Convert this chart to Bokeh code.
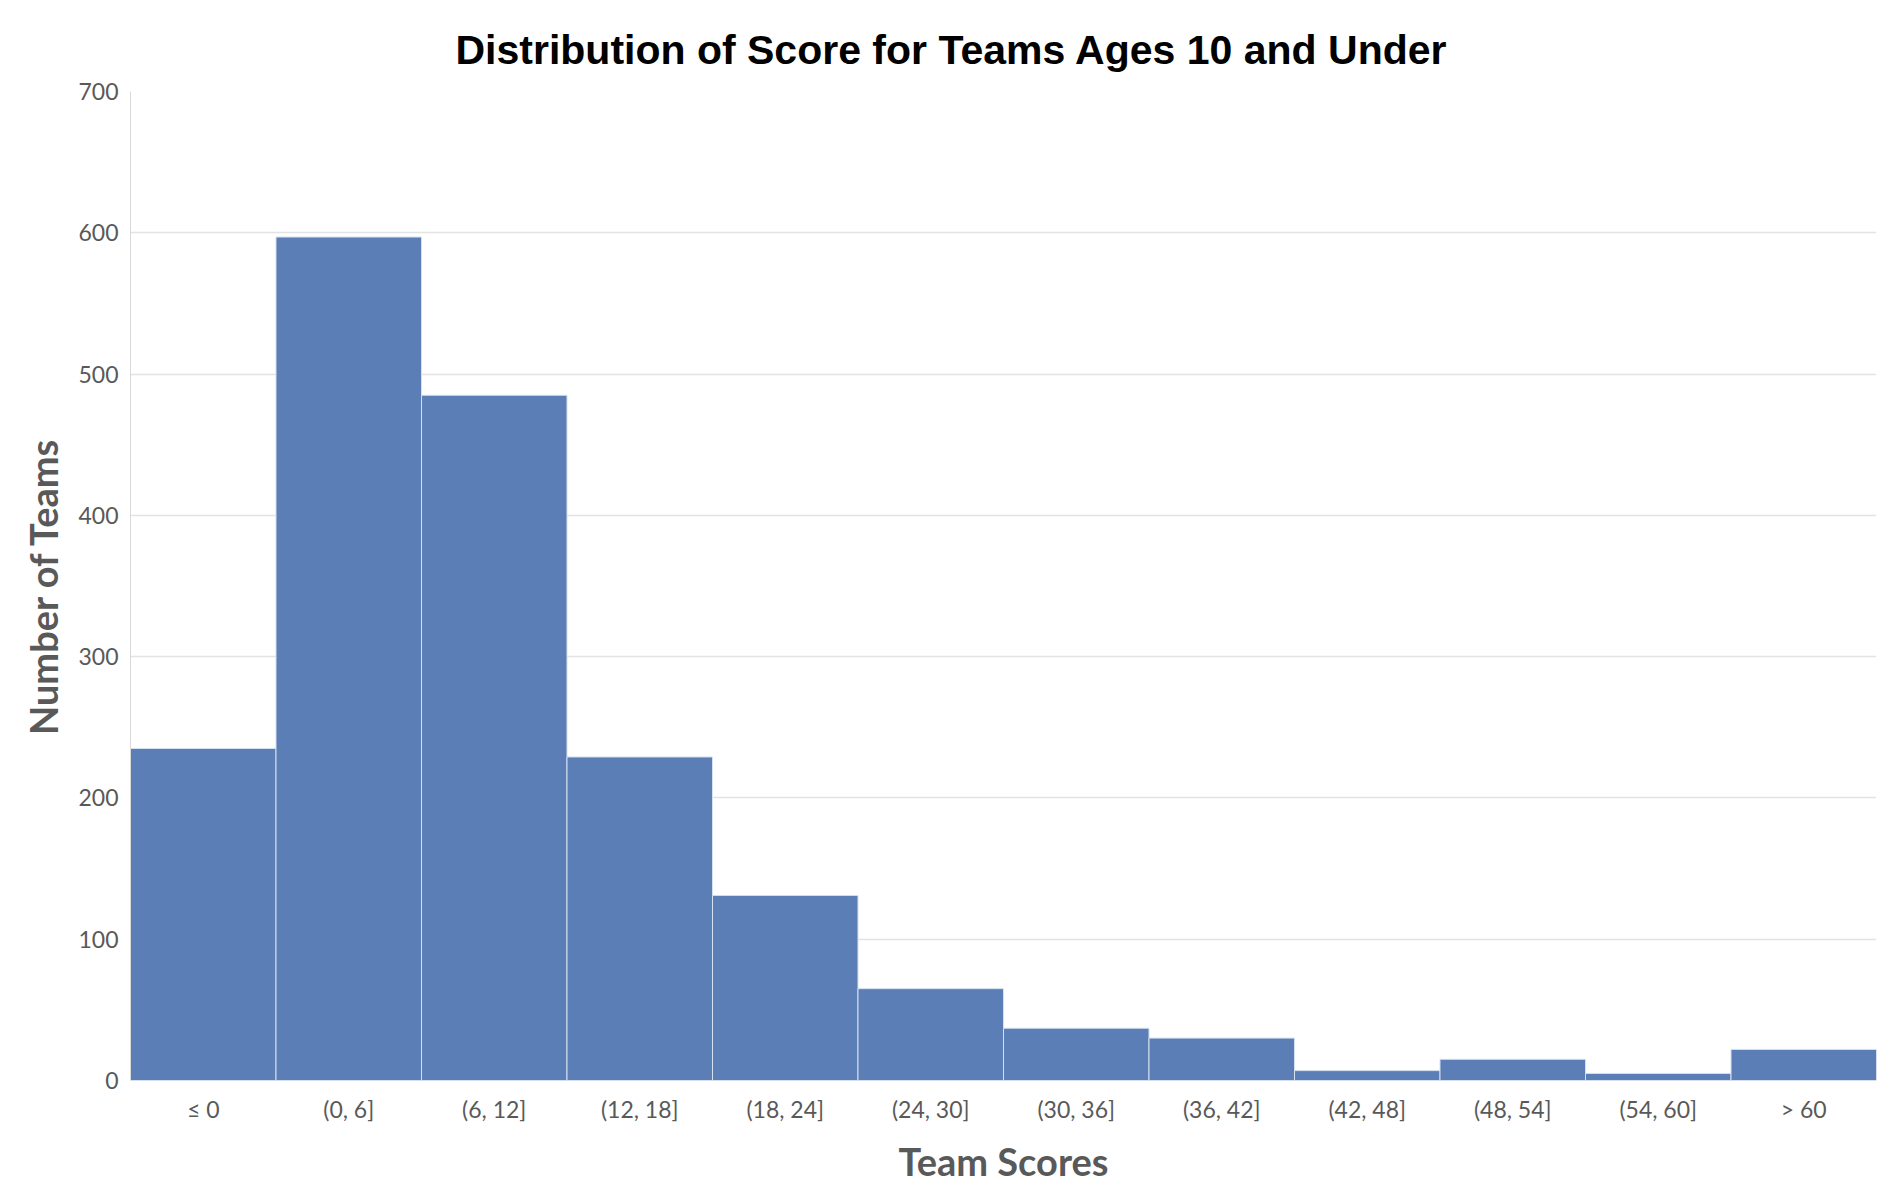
from bokeh.plotting import figure
from bokeh.models import FactorRange, Range1d, FixedTicker, ColumnDataSource
from bokeh.embed import file_html
from bokeh.resources import INLINE

categories = ["≤ 0", "(0, 6]", "(6, 12]", "(12, 18]", "(18, 24]", "(24, 30]",
              "(30, 36]", "(36, 42]", "(42, 48]", "(48, 54]", "(54, 60]", "> 60"]
counts = [235, 597, 485, 229, 131, 65, 37, 30, 7, 15, 5, 22]
y_ticks = [0, 100, 200, 300, 400, 500, 600, 700]

src = ColumnDataSource(dict(cat=categories, n=counts))

p = figure(width=1888, height=1192, output_backend="svg", toolbar_location=None,
           x_range=FactorRange(*categories, range_padding=0),
           y_range=Range1d(0, 700),
           min_border_left=130, min_border_right=12, min_border_top=91, min_border_bottom=112)

p.vbar(x="cat", top="n", width=1.0, source=src, fill_color="#5b7eb6",
       line_color="#d6e0f0", line_width=1)

p.title.text = "Distribution of Score for Teams Ages 10 and Under"
p.title.align = "left"
p.title.offset = 325
p.title.standoff = 37
p.title.text_font = "Liberation Sans"
p.title.text_font_style = "bold"
p.title.text_font_size = "41px"
p.title.text_color = "black"

p.outline_line_color = None
p.xgrid.grid_line_color = None
p.ygrid.grid_line_color = "#e3e3e3"
p.ygrid.grid_line_width = 1.5

p.yaxis.ticker = FixedTicker(ticks=y_ticks)
for ax in (p.xaxis[0], p.yaxis[0]):
    ax.major_tick_line_color = None
    ax.minor_tick_line_color = None
    ax.major_label_text_font = "Lato"
    ax.major_label_text_font_size = "23px"
    ax.major_label_text_color = "#595959"
    ax.axis_label_text_font = "Lato"
    ax.axis_label_text_font_style = "bold"
    ax.axis_label_text_font_size = "38px"
    ax.axis_label_text_color = "#595959"

p.yaxis.axis_line_color = "#d9d9d9"
p.xaxis.axis_line_color = None
p.xaxis.axis_label = "Team Scores"
p.yaxis.axis_label = "Number of Teams"
p.xaxis.major_label_standoff = 8
p.yaxis.major_label_standoff = 6
p.xaxis.axis_label_standoff = 12
p.yaxis.axis_label_standoff = 9

open("out.html", "w").write(file_html(p, INLINE))
